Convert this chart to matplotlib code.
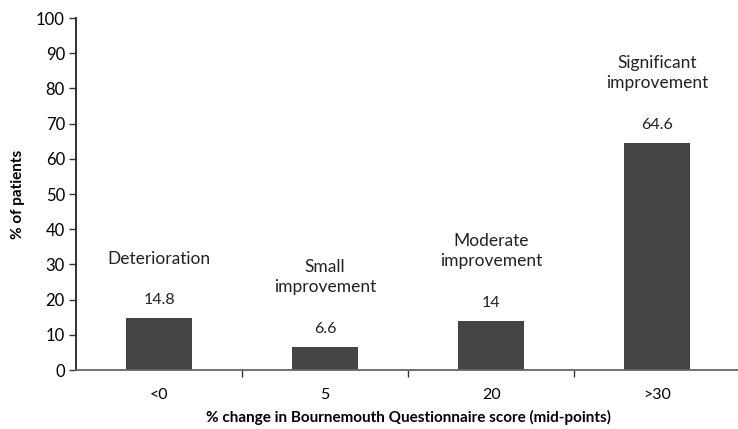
import numpy as np
import matplotlib.pyplot as plt

# data
categories = ['<0', '5', '20', '>30']
values = [14.8, 6.6, 14, 64.6]
value_labels = ['14.8', '6.6', '14', '64.6']
group_labels = ['Deterioration', 'Small\nimprovement', 'Moderate\nimprovement', 'Significant\nimprovement']

plt.rcParams['font.family'] = ['Lato', 'DejaVu Sans']

fig = plt.figure(figsize=(7.38, 4.29), dpi=100)
ax = fig.add_axes([0.103, 0.1375, 0.9, 0.8205])

x = np.arange(len(categories))
ax.bar(x, values, width=0.4, color='#444444')

for xi, v, vl, gl in zip(x, values, value_labels, group_labels):
    ax.text(xi, v + 3.0, vl, ha='center', va='bottom', fontsize=11.5, color='#222222')
    ax.text(xi, v + 14.6, gl, ha='center', va='bottom', fontsize=12.5,
            color='#222222', linespacing=1.3)

ax.set_xlim(-0.5, 3.5)
ax.set_ylim(0, 100)
ax.set_yticks(np.arange(0, 101, 10))
ax.set_xticks(x)
ax.set_xticklabels(categories, fontsize=11.5)
ax.set_xticks(np.arange(0.5, 3.5, 1), minor=True)
ax.tick_params(axis='x', which='major', length=0, pad=13)
ax.tick_params(axis='x', which='minor', length=5, width=1, color='#333333', direction='out')
ax.tick_params(axis='y', length=5, width=1, color='#333333', labelsize=12, pad=3)

for s in ['top', 'right']:
    ax.spines[s].set_visible(False)
ax.spines['left'].set_color('#222222')
ax.spines['bottom'].set_color('#666666')
ax.spines['left'].set_linewidth(1.3)
ax.spines['bottom'].set_linewidth(1.3)

ax.set_ylabel('% of patients', fontsize=11, fontweight='bold', labelpad=8)
ax.set_xlabel('% change in Bournemouth Questionnaire score (mid-points)',
              fontsize=11, fontweight='bold', labelpad=6)

fig.savefig('out.png', dpi=100, facecolor='w')
